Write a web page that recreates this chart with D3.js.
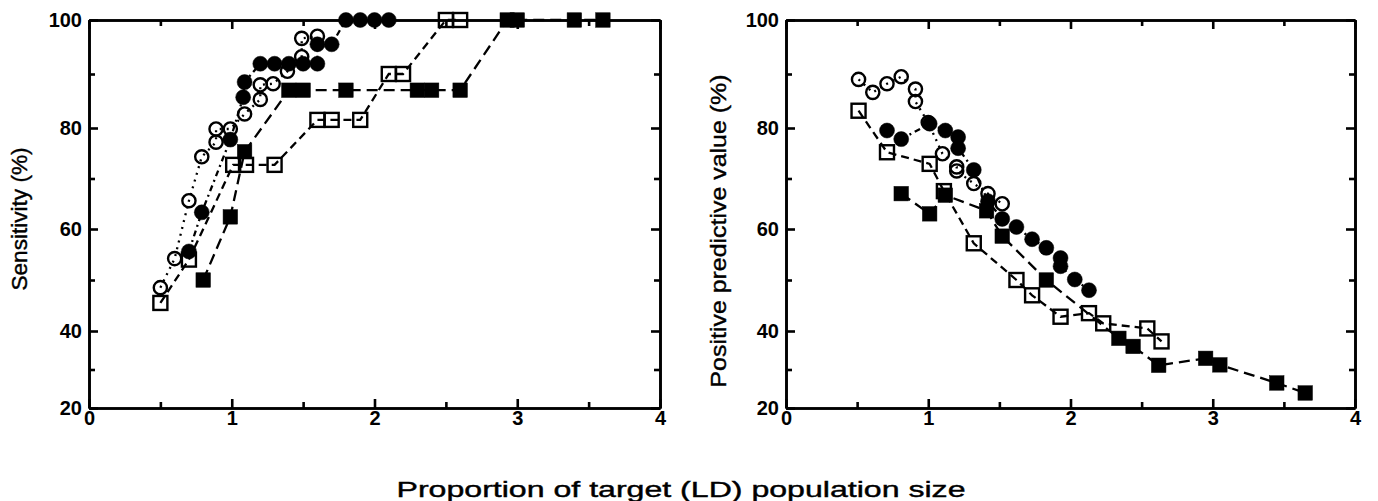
<!DOCTYPE html>
<html>
<head>
<meta charset="utf-8">
<script src="https://cdn.jsdelivr.net/npm/d3@7"></script>
<style>
  body { margin: 0; background: #fff; }
  svg text { font-family: "Liberation Sans", Arial, Helvetica, sans-serif; fill: #000; }
</style>
</head>
<body>
<div id="viz"></div>
<script>

// data (x = proportion of target population size, y = %)

const xMajor = [0, 1, 2, 3, 4];
const xMinor = [0.5, 1.5, 2.5, 3.5];
const yMajor = [20, 40, 60, 80, 100];
const yMinor = [30, 50, 70, 90];

const sensOpenCircle = [[0.5,48.5],[0.6,54.2],[0.7,65.6],[0.79,74.3],[0.89,77.2],[0.89,79.8],[0.99,79.8],[1.09,82.6],[1.2,85.3],[1.2,88],[1.29,88.2],[1.39,90.5],[1.49,93.2],[1.49,96.6],[1.6,97]];
const sensFilledCircle = [[0.7,55.6],[0.79,63.3],[0.99,77.7],[1.08,85.7],[1.09,88.5],[1.2,91.9],[1.3,91.9],[1.4,91.9],[1.5,91.9],[1.6,91.9],[1.6,95.5],[1.7,95.5],[1.8,100],[1.9,100],[2.0,100],[2.1,100]];
const sensOpenSquare = [[0.5,45.5],[0.7,54],[1.01,72.7],[1.1,72.7],[1.3,72.7],[1.6,81.5],[1.7,81.5],[1.9,81.5],[2.1,90],[2.2,90],[2.5,100],[2.6,100]];
const sensFilledSquare = [[0.8,50],[0.99,62.4],[1.09,75.3],[1.4,87],[1.5,87],[1.8,87],[2.3,87],[2.4,87],[2.6,87],[2.93,100],[3.0,100],[3.4,100],[3.6,100]];

const ppvOpenCircle = [[0.51,89],[0.61,86.6],[0.71,88.2],[0.81,89.5],[0.91,87.2],[0.91,84.9],[1.0,81],[1.1,74.9],[1.2,72.3],[1.2,71.5],[1.32,69],[1.42,67],[1.52,65]];
const ppvFilledCircle = [[0.71,79.5],[0.81,77.8],[1.01,80.8],[1.12,79.5],[1.21,78.2],[1.21,76],[1.32,71.7],[1.42,65.5],[1.52,62],[1.62,60.4],[1.73,58],[1.83,56.3],[1.93,54.3],[1.93,52.7],[2.03,50.1],[2.13,48]];
const ppvOpenSquare = [[0.51,83.2],[0.71,75.2],[1.01,72.9],[1.11,67.5],[1.32,57.2],[1.62,50],[1.73,47],[1.93,42.8],[2.13,43.5],[2.23,41.5],[2.54,40.5],[2.64,37.3]];
const ppvFilledSquare = [[0.81,67],[1.01,63],[1.12,66.7],[1.41,63.6],[1.52,58.6],[1.83,50],[2.34,38.1],[2.44,36],[2.62,31.1],[2.95,32.9],[3.05,31.2],[3.45,26.5],[3.65,23.9]];

async function draw() {

  const dms = {
    width: 1378,
    height: 501,
    top: 20,
    bottom: 408
  };

  const svg = d3.select("#viz")
                  .append("svg")
                    .attr("width", dms.width)
                    .attr("height", dms.height);

  // scanned figure: y axis spacing is uneven, so piecewise scale
  const yScale = d3.scaleLinear()
                    .domain([20, 40, 60, 80, 100])
                    .range([dms.bottom, 331, 229, 128, dms.top]);

  const styles = {
    openCircle:   { shape: "circle", filled: false, dash: "2,5" },
    filledCircle: { shape: "circle", filled: true,  dash: "6,4,2,4" },
    openSquare:   { shape: "square", filled: false, dash: "8,5" },
    filledSquare: { shape: "square", filled: true,  dash: "11,6" }
  };

  const panels = [
    {
      left: 89, right: 660, title: "Sensitivity (%)", titleX: 19, titleY: 219, titleLen: 143,
      series: [
        ["filledSquare", sensFilledSquare],
        ["openSquare", sensOpenSquare],
        ["filledCircle", sensFilledCircle],
        ["openCircle", sensOpenCircle]
      ]
    },
    {
      left: 786, right: 1355, title: "Positive predictive value (%)", titleX: 718, titleY: 231, titleLen: 313,
      series: [
        ["filledSquare", ppvFilledSquare],
        ["openSquare", ppvOpenSquare],
        ["filledCircle", ppvFilledCircle],
        ["openCircle", ppvOpenCircle]
      ]
    }
  ];

  panels.forEach(p => {
    const xScale = d3.scaleLinear()
                      .domain([0, 4])
                      .range([p.left, p.right]);

    const g = svg.append("g");

    // frame with inward ticks on all four sides
    const axisStyle = sel => {
      sel.selectAll("path.domain").attr("stroke", "#000").attr("stroke-width", 2.6);
      sel.selectAll(".tick line").attr("stroke", "#000").attr("stroke-width", 2.6);
      sel.selectAll(".tick text")
          .attr("font-size", 20)
          .attr("font-weight", "bold")
          .attr("fill", "#000");
    };

    g.append("g")
      .attr("transform", `translate(0, ${dms.bottom})`)
      .call(d3.axisBottom(xScale).tickValues(xMajor).tickFormat(d3.format("d")).tickSizeInner(-9).tickSizeOuter(0).tickPadding(3))
      .call(axisStyle);
    g.append("g")
      .attr("transform", `translate(0, ${dms.bottom})`)
      .call(d3.axisBottom(xScale).tickValues(xMinor).tickSizeInner(-6).tickSizeOuter(0).tickFormat(""))
      .call(axisStyle);
    g.append("g")
      .attr("transform", `translate(0, ${dms.top})`)
      .call(d3.axisTop(xScale).tickValues(xMajor).tickSizeInner(-9).tickSizeOuter(0).tickFormat(""))
      .call(axisStyle);
    g.append("g")
      .attr("transform", `translate(0, ${dms.top})`)
      .call(d3.axisTop(xScale).tickValues(xMinor).tickSizeInner(-6).tickSizeOuter(0).tickFormat(""))
      .call(axisStyle);
    g.append("g")
      .attr("transform", `translate(${p.left}, 0)`)
      .call(d3.axisLeft(yScale).tickValues(yMajor).tickFormat(d3.format("d")).tickSizeInner(-9).tickSizeOuter(0).tickPadding(7))
      .call(axisStyle);
    g.append("g")
      .attr("transform", `translate(${p.left}, 0)`)
      .call(d3.axisLeft(yScale).tickValues(yMinor).tickSizeInner(-6).tickSizeOuter(0).tickFormat(""))
      .call(axisStyle);
    g.append("g")
      .attr("transform", `translate(${p.right}, 0)`)
      .call(d3.axisRight(yScale).tickValues(yMajor).tickSizeInner(-9).tickSizeOuter(0).tickFormat(""))
      .call(axisStyle);
    g.append("g")
      .attr("transform", `translate(${p.right}, 0)`)
      .call(d3.axisRight(yScale).tickValues(yMinor).tickSizeInner(-6).tickSizeOuter(0).tickFormat(""))
      .call(axisStyle);

    g.append("text")
      .attr("transform", `translate(${p.titleX}, ${p.titleY}) rotate(-90)`)
      .attr("text-anchor", "middle")
      .attr("dy", "0.35em")
      .attr("font-size", 22)
      .attr("stroke", "#000")
      .attr("stroke-width", 0.4)
      .attr("textLength", p.titleLen)
      .attr("lengthAdjust", "spacingAndGlyphs")
      .text(p.title);

    // series
    const line = d3.line()
                    .x(d => xScale(d[0]))
                    .y(d => yScale(d[1]));

    p.series.forEach(([key, data]) => {
      const st = styles[key];
      g.append("path")
        .datum(data)
        .attr("d", line)
        .attr("fill", "none")
        .attr("stroke", "#000")
        .attr("stroke-width", 2.3)
        .attr("stroke-dasharray", st.dash);

      const marks = g.append("g").selectAll(st.shape === "circle" ? "circle" : "rect")
                      .data(data)
                      .join(st.shape === "circle" ? "circle" : "rect");

      if (st.shape === "circle") {
        marks.attr("cx", d => xScale(d[0]))
             .attr("cy", d => yScale(d[1]))
             .attr("r", st.filled ? 7.5 : 6.6);
      } else {
        const s = st.filled ? 14.5 : 14;
        marks.attr("x", d => xScale(d[0]) - s / 2)
             .attr("y", d => yScale(d[1]) - s / 2)
             .attr("width", s)
             .attr("height", s);
      }
      marks.attr("fill", st.filled ? "#000" : "none")
           .attr("stroke", "#000")
           .attr("stroke-width", st.filled ? 0.5 : 2.4);
    });
  });

  svg.append("text")
    .attr("x", 681)
    .attr("y", 497)
    .attr("text-anchor", "middle")
    .attr("font-size", 22)
    .attr("stroke", "#000")
    .attr("stroke-width", 0.4)
    .attr("textLength", 569)
    .attr("lengthAdjust", "spacingAndGlyphs")
    .text("Proportion of target (LD) population size");
}

draw();
</script>
</body>
</html>
